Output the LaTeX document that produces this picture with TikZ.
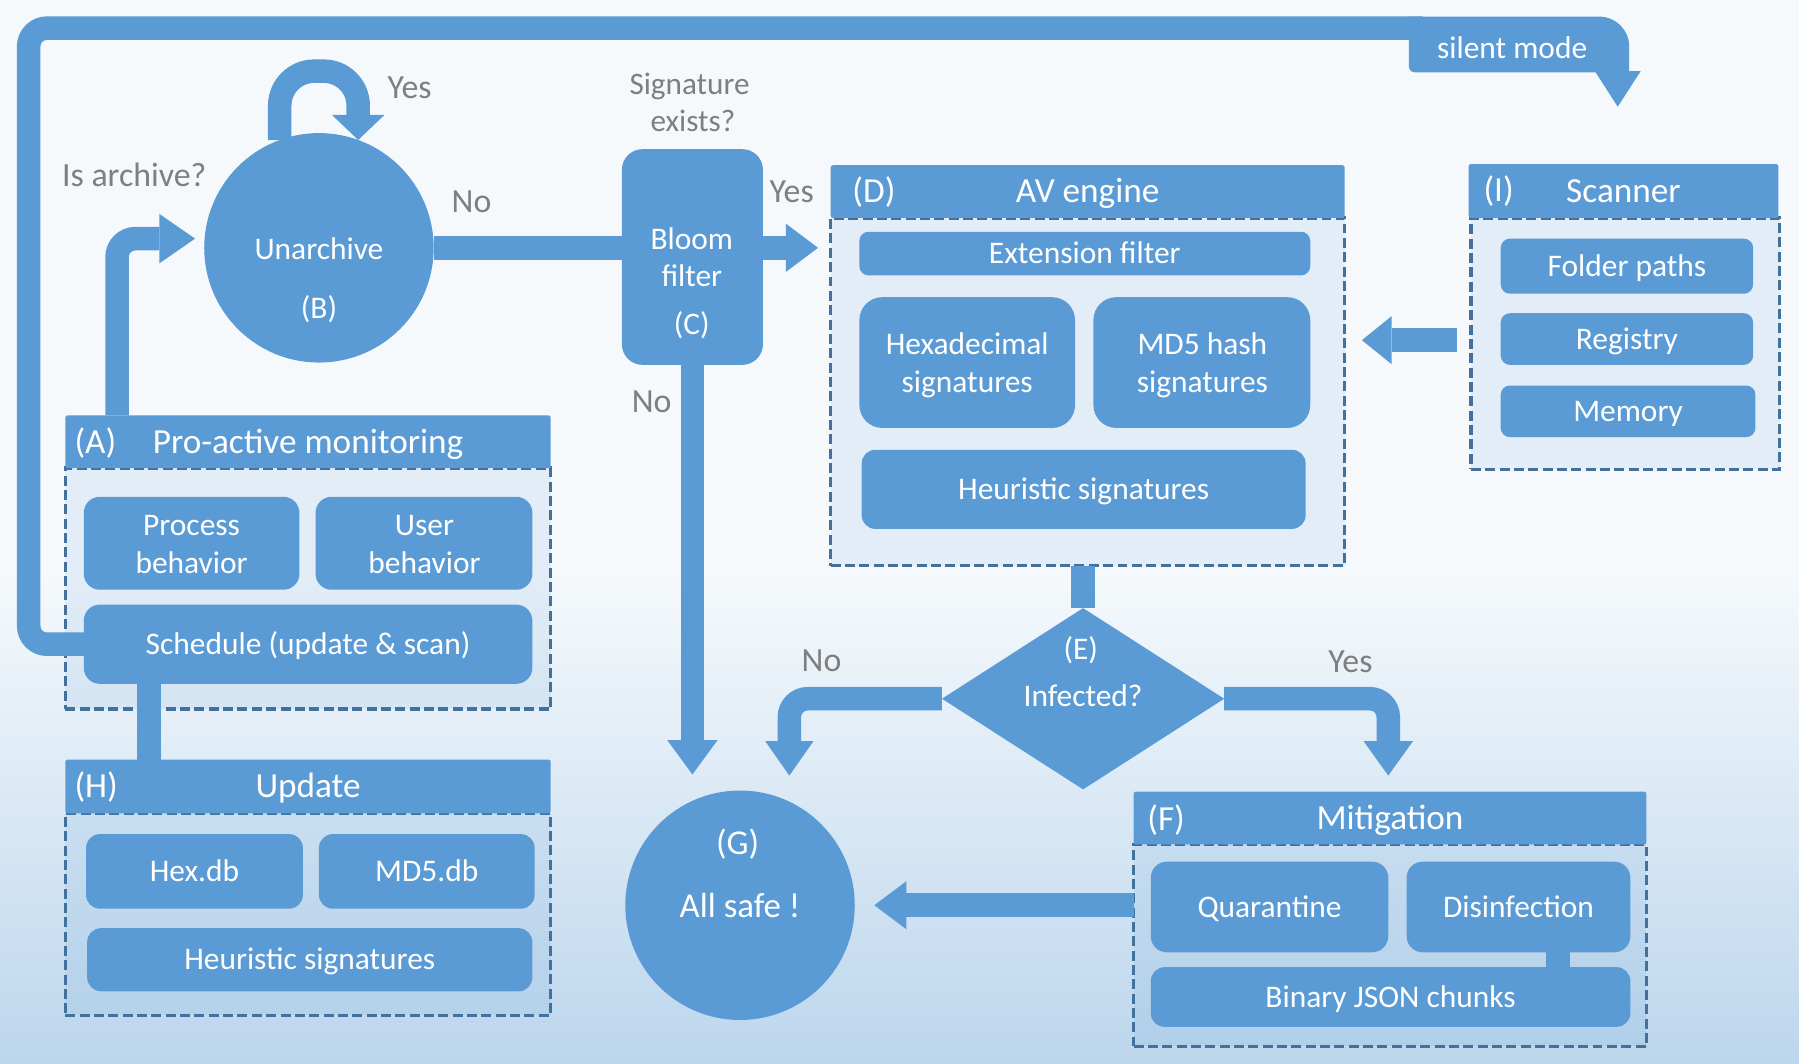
\documentclass[tikz,border=0pt]{standalone}
\usepackage{fontspec}
\setmainfont{Carlito}
\usetikzlibrary{shapes.geometric,arrows.meta,calc}
\definecolor{mblue}{HTML}{5B9BD5}
\definecolor{dblue}{HTML}{41719C}
\definecolor{gtext}{HTML}{7F7F7F}
\definecolor{bgtop}{HTML}{F5F9FC}
\definecolor{bgbot}{HTML}{BCD6ED}
\newcommand{\mkbox}[7]{%
  \pgfmathsetmacro{\mkBW}{#4-#2}%
  \pgfmathsetmacro{\mkBH}{#5-#3}%
  \node[#6, minimum width=\mkBW pt, minimum height=\mkBH pt] (#1) at ({(#2+#4)/2},{(#3+#5)/2}) {#7};%
}
\begin{document}
\begin{tikzpicture}[x=1pt,y=-1pt,
  txt/.style={inner sep=0pt, outer sep=0pt, text depth=0pt},
  wtxt/.style={txt, text=white, font=\fontsize{27.4pt}{30pt}\selectfont, text height=17.6pt},
  htxt/.style={txt, text=white, font=\fontsize{30.7pt}{34pt}\selectfont, text height=19.8pt},
  btxt/.style={txt, text=white, font=\fontsize{30.4pt}{34pt}\selectfont, text height=19.6pt},
  gtxt/.style={txt, text=gtext, font=\fontsize{29.5pt}{33pt}\selectfont, text height=19pt},
  gstxt/.style={txt, text=gtext, font=\fontsize{27.2pt}{30pt}\selectfont, text height=17.5pt},
  hdr/.style={fill=mblue, rounded corners=2pt, inner sep=0pt, outer sep=0pt, htxt},
  body/.style={draw=dblue, line width=2.9pt, dash pattern=on 8.7pt off 3.8pt, fill=mblue, fill opacity=0.12, inner sep=0pt, outer sep=0pt},
  sub/.style={fill=mblue, rounded corners=#1, inner sep=0pt, outer sep=0pt, wtxt},
  sub/.default=10pt,
  conn/.style={draw=mblue, line width=20.5pt, rounded corners=16pt},
]
% background
\fill[bgtop] (0,0) rectangle (1568,927);
\shade[top color=bgtop, bottom color=bgbot] (0,500) rectangle (1568,927);
\useasboundingbox (0,0) rectangle (1568,927);

% ---- containers
\mkbox{Abody}{57}{408}{480}{618}{body}{}
\mkbox{Ahead}{57}{362}{480}{408}{hdr}{Pro-active monitoring}
\mkbox{pb}{73}{433}{261}{514}{sub=14pt}{}
\mkbox{ub}{275}{433}{464}{514}{sub=14pt}{}
\mkbox{sched}{73}{527}{464}{596}{sub=14pt}{Schedule (update \& scan)}

\mkbox{Hbody}{57}{709}{480}{885}{body}{}
\mkbox{Hhead}{57}{662}{480}{709}{hdr}{Update}
\mkbox{hexdb}{75}{727}{264}{792}{sub=12pt}{Hex.db}
\mkbox{md5db}{278}{727}{466}{792}{sub=12pt}{MD5.db}
\mkbox{heurH}{76}{809}{464}{864}{sub=12pt}{Heuristic signatures}

\mkbox{Dbody}{724}{190}{1172}{493}{body}{}
\mkbox{Dhead}{724}{144}{1172}{190}{hdr}{AV engine}
\mkbox{ext}{749}{202}{1142}{240}{sub=8pt}{Extension filter}
\mkbox{hexs}{749}{259}{937}{373}{sub=20pt}{}
\mkbox{md5s}{953}{259}{1142}{373}{sub=20pt}{}
\mkbox{heurD}{751}{392}{1138}{461}{sub=12pt}{Heuristic signatures}

\mkbox{Ibody}{1282}{190}{1551}{409}{body}{}
\mkbox{Ihead}{1280}{143}{1550}{190}{hdr}{Scanner}
\mkbox{fold}{1308}{208}{1528}{256}{sub=8pt}{Folder paths}
\mkbox{reg}{1308}{273}{1528}{318}{sub=8pt}{Registry}
\mkbox{mem}{1308}{336}{1530}{381}{sub=8pt}{Memory}

\mkbox{Fbody}{988}{736}{1435}{912}{body}{}
\mkbox{Fhead}{988}{690}{1435}{736}{hdr}{Mitigation}
\mkbox{quar}{1003}{751}{1210}{830}{sub=14pt}{Quarantine}
\mkbox{disinf}{1226}{751}{1421}{830}{sub=14pt}{Disinfection}
\mkbox{bin}{1003}{843}{1421}{895}{sub=12pt}{Binary JSON chunks}

% ---- process shapes
\node[circle, fill=mblue, minimum size=200pt, inner sep=0pt, outer sep=0pt] (B) at (278,216) {};
\mkbox{C}{542}{130}{665}{318}{sub=18pt}{}
\node[diamond, fill=mblue, minimum width=246pt, minimum height=158pt, inner sep=0pt, outer sep=0pt] (E) at (944,609) {};
\node[circle, fill=mblue, minimum size=200pt, inner sep=0pt, outer sep=0pt] (G) at (645,789) {};

% ---- connectors
\coordinate (lpc) at (25,24.5);
\coordinate (lpe) at (1240,24.5);
\draw[conn] (sched.west) -| (lpc) -- (lpe);
\fill[mblue] (1228,14.5) -- (1394,14.5) arc[start angle=90, end angle=0, radius=26pt] -- (1420,63) -- (1233,63) arc[start angle=270, end angle=180, radius=5pt] -- cycle;
\fill[mblue] (1390,62) -- (1430,62) -- (1410,93) -- cycle;

\draw[conn, -{Triangle[length=31pt,width=43pt,line width=0pt]}] ($(Ahead.north west)+(45,0)$) |- ($(B.west)+(-8,-8)$);
\draw[conn, rounded corners=30pt, -{Triangle[length=22pt,width=46pt,line width=0pt]}] (B.110) -- ++(0,-60) -| (B.70);
\draw[conn] (B.east) -- (B.east -| C.west);
\draw[conn, -{Triangle[length=28pt,width=42pt,line width=0pt]}] (B.east -| C.east) -- ($(B.east -| Dhead.west)+(-11,0)$);
\draw[conn, -{Triangle[length=30pt,width=44pt,line width=0pt]}] (C.south) -- ($(C.south |- G.north)+(0,-14)$);
\draw[conn, -{Triangle[length=26pt,width=42pt,line width=0pt]}] ($(Ibody.west)+(-12,-3)$) -- ($(Ibody.west -| Dbody.east)+(15,-3)$);
\draw[conn] (E.north |- Dbody.south) -- (E.north);
\draw[conn, -{Triangle[length=30pt,width=42pt,line width=0pt]}] (E.west) -| ($(G.north)+(43,-13)$);
\draw[conn, -{Triangle[length=30pt,width=43pt,line width=0pt]}] (E.east) -| ($(Fhead.north west)+(222,-14)$);
\draw[conn, -{Triangle[length=28pt,width=42pt,line width=0pt]}] (Fbody.west |- G.east) -- ($(G.east)+(17,0)$);
\draw[conn] ($(sched.south west)+(57,0)$) -- ($(Hhead.north west)+(73,0)$);
\draw[conn] ($(disinf.south east)+(-63,0)$) -- ($(bin.north east)+(-63,0)$);

% ---- texts
\node[wtxt] (silent) at (1318,42) {silent mode};
\node[htxt, anchor=west] (Alab) at (65,385) {(A)};
\node[htxt, anchor=west] (Hlab) at (65,685) {(H)};
\node[htxt, anchor=west] (Dlab) at (743,167) {(D)};
\node[htxt, anchor=west] (Ilab) at (1293,166) {(I)};
\node[htxt, anchor=west] (Flab) at (1000,714) {(F)};

\node[wtxt] (tP1) at (167,458) {Process};
\node[wtxt] (tP2) at (167,491) {behavior};
\node[wtxt] (tU1) at (370,458) {User};
\node[wtxt] (tU2) at (370,491) {behavior};
\node[wtxt] (tH1) at (843,300) {Hexadecimal};
\node[wtxt] (tH2) at (843,333) {signatures};
\node[wtxt] (tM1) at (1048,300) {MD5 hash};
\node[wtxt] (tM2) at (1048,333) {signatures};
\node[wtxt] (tB1) at (278,217) {Unarchive};
\node[wtxt] (tB2) at (278,269) {(B)};
\node[wtxt] (tC1) at (603,209) {Bloom};
\node[wtxt] (tC2) at (603,241) {filter};
\node[wtxt] (tC3) at (603,283) {(C)};
\node[wtxt] (tE1) at (942,566) {(E)};
\node[wtxt] (tE2) at (944,607) {Infected?};
\node[btxt] (tG1) at (643,735) {(G)};
\node[btxt] (tG2) at (645,790) {All safe !};

\node[gtxt] (l1) at (117,153) {Is archive?};
\node[gtxt] (l2) at (357,76) {Yes};
\node[gtxt] (l3) at (411,176) {No};
\node[gstxt] (l4) at (601,74) {Signature};
\node[gstxt] (l5) at (604,106) {exists?};
\node[gtxt] (l6) at (690,167) {Yes};
\node[gtxt] (l7) at (568,350) {No};
\node[gtxt] (l8) at (716,576) {No};
\node[gtxt] (l9) at (1177,577) {Yes};
\end{tikzpicture}
\end{document}
